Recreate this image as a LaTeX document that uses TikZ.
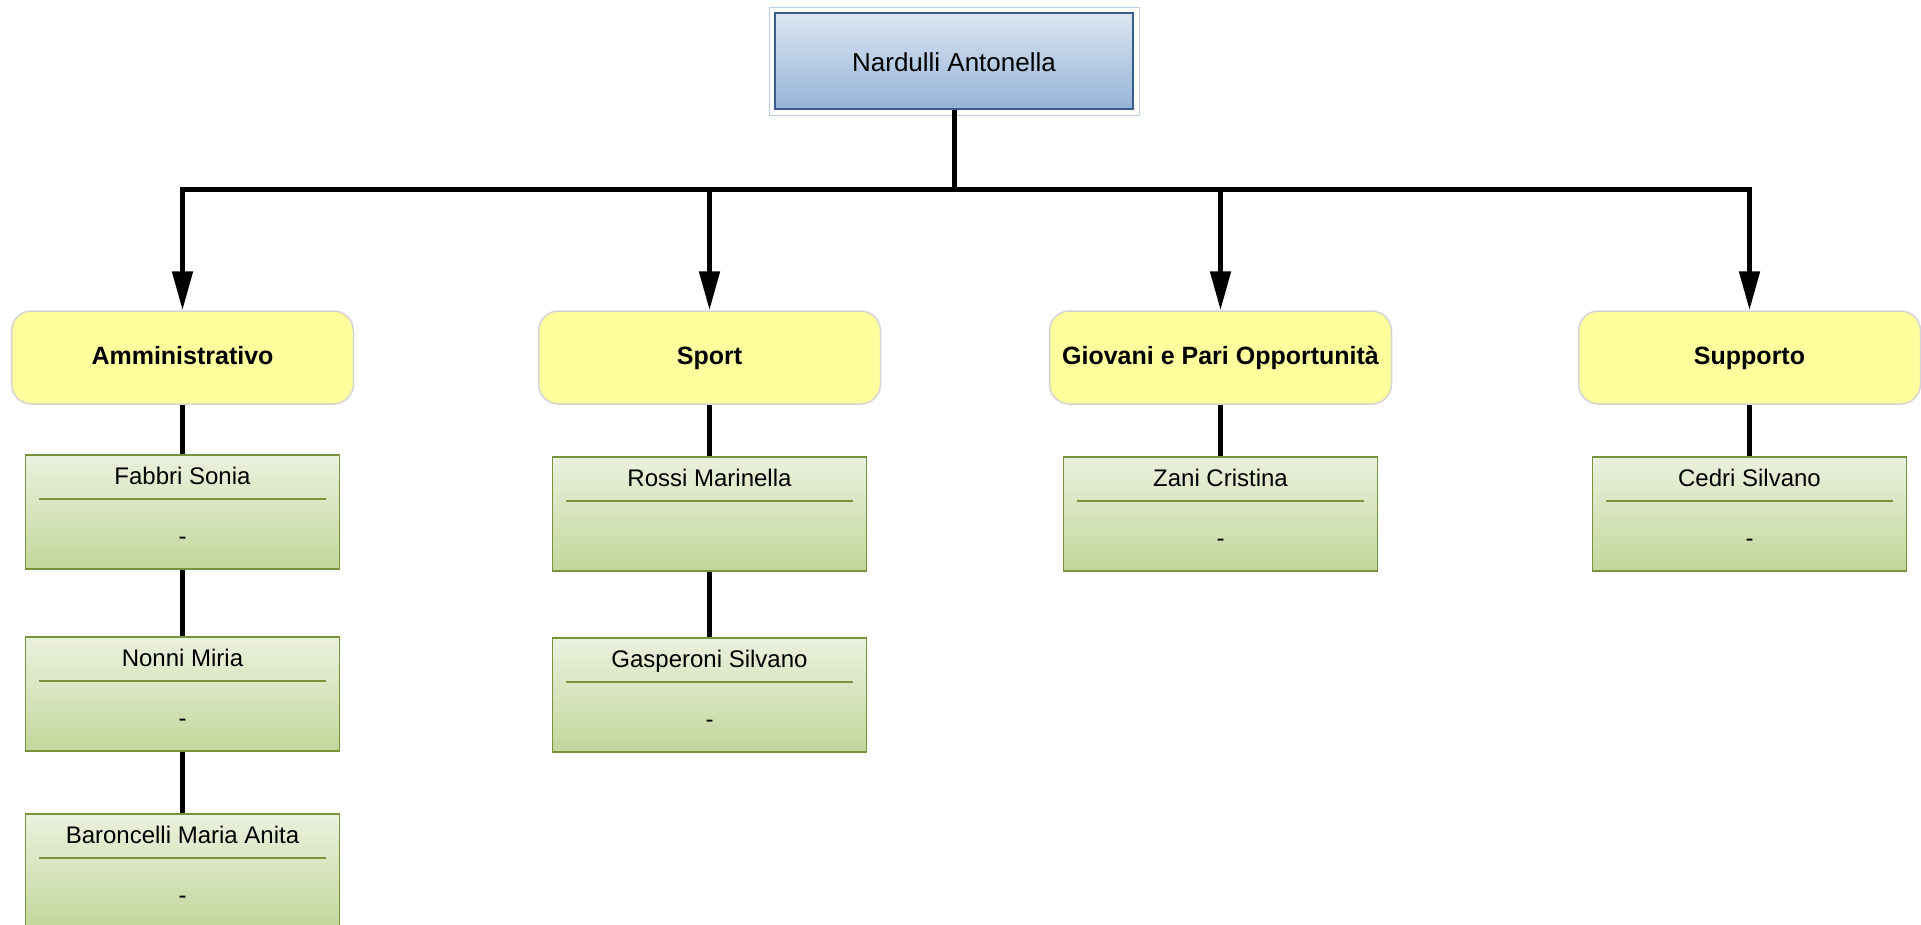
\documentclass[tikz,border=0pt]{standalone}
\usepackage{fontspec}
\setmainfont{Liberation Sans}
\usetikzlibrary{arrows.meta}
\definecolor{topA}{HTML}{DCE6F2}
\definecolor{topB}{HTML}{95B3D7}
\definecolor{topborder}{HTML}{385D8A}
\definecolor{outerc}{HTML}{B9CDE5}
\definecolor{yfill}{HTML}{FFFF9E}
\definecolor{ygray}{HTML}{D4D4D4}
\definecolor{gA}{HTML}{EBF1DE}
\definecolor{gB}{HTML}{C3D69B}
\definecolor{gborder}{HTML}{77933C}
\newcommand\personnode[5]{%
  \node[personbox, anchor=north] (#1) at (#2,#3) {};
  \node[nametext] (#1n) at ([yshift=-30pt]#1.north) {#4};
  \draw[sepline] ([xshift=14pt,yshift=-45pt]#1.north west) -- ([xshift=-14pt,yshift=-45pt]#1.north east);
  \node[nametext] (#1d) at ([yshift=-90pt]#1.north) {#5};
}
\begin{document}
\begin{tikzpicture}[x=1pt,y=-1pt,
  topbox/.style={draw=topborder, line width=1.5pt, top color=topA, bottom color=topB,
    minimum width=358pt, minimum height=96pt, inner sep=0, text height=24pt, text depth=4pt,
    font=\fontsize{26}{30}\selectfont},
  outerbox/.style={draw=outerc, line width=1pt, minimum width=370pt, minimum height=108pt, inner sep=0},
  catbox/.style={draw=ygray, line width=1.5pt, fill=yfill, rounded corners=20pt,
    minimum width=342pt, minimum height=93pt, inner sep=0, text height=18pt, text depth=5pt,
    font=\bfseries\fontsize{25}{30}\selectfont},
  personbox/.style={draw=gborder, line width=1.5pt, top color=gA, bottom color=gB,
    minimum width=314pt, minimum height=114pt, inner sep=0},
  nametext/.style={font=\fontsize{24}{28}\selectfont, inner sep=0, anchor=base},
  sepline/.style={draw=gborder, line width=1.5pt},
  link/.style={line width=5pt},
  arrowlink/.style={line width=5pt, line join=miter, -{Triangle[length=39pt,width=20pt]}}
]
\useasboundingbox (0,0) rectangle (1921,924);
% top
\node[outerbox] (topout) at (954,61) {};
\node[topbox] (top) at (954,61) {Nardulli Antonella};
\coordinate (bus) at (954,189);
% categories
\node[catbox] (y1) at (182.5,357.5) {Amministrativo};
\node[catbox] (y2) at (709.5,357.5) {Sport};
\node[catbox] (y3) at (1220.5,357.5) {Giovani e Pari Opportunità};
\node[catbox] (y4) at (1749.5,357.5) {Supporto};
% people
\personnode{g11}{182.5}{454}{Fabbri Sonia}{-}
\personnode{g12}{182.5}{636}{Nonni Miria}{-}
\personnode{g13}{182.5}{813}{Baroncelli Maria Anita}{-}
\personnode{g21}{709.5}{456}{Rossi Marinella}{}
\personnode{g22}{709.5}{637}{Gasperoni Silvano}{-}
\personnode{g31}{1220.5}{456}{Zani Cristina}{-}
\personnode{g41}{1749.5}{456}{Cedri Silvano}{-}
% arrows
\draw[arrowlink] (top.south) -- (bus) -| (y1.north);
\draw[arrowlink] (top.south) -- (bus) -| (y2.north);
\draw[arrowlink] (top.south) -- (bus) -| (y3.north);
\draw[arrowlink] (top.south) -- (bus) -| (y4.north);
% links
\draw[link] (y1.south) -- (g11.north);
\draw[link] (g11.south) -- (g12.north);
\draw[link] (g12.south) -- (g13.north);
\draw[link] (y2.south) -- (g21.north);
\draw[link] (g21.south) -- (g22.north);
\draw[link] (y3.south) -- (g31.north);
\draw[link] (y4.south) -- (g41.north);
\end{tikzpicture}
\end{document}
